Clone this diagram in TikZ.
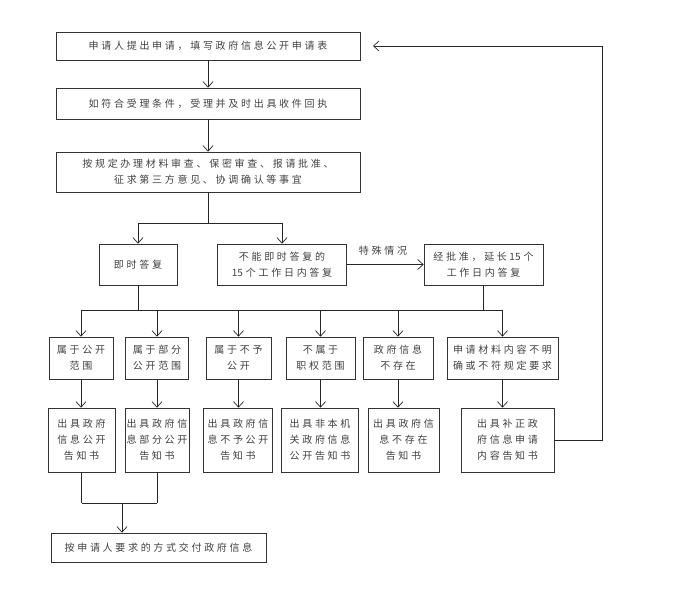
\documentclass[tikz,border=0pt]{standalone}
\usepackage{fontspec}
\newfontfamily\cjk[LetterSpace=27]{Noto Sans CJK SC}
\newfontfamily\cjkn{Noto Sans CJK SC}
\newcommand{\numtxt}[1]{{\cjkn\hspace{2.5pt}#1\hspace{3pt}}}
\usetikzlibrary{arrows.meta}
\begin{document}
\begin{tikzpicture}[x=1pt,y=-1pt,
  box/.style={draw=black!80,line width=0.7pt,inner sep=0pt,align=center,
    font=\cjk\fontsize{10}{16}\selectfont,text=black!75},
  conn/.style={draw=black!85,line width=0.7pt},
  arr/.style={conn,-{Straight Barb[length=5.5pt,width=10pt,line width=0.7pt]}},
  lbl/.style={inner sep=0pt,font=\cjk\fontsize{10}{16}\selectfont,text=black!75}]
\useasboundingbox (0,0) rectangle (683,600);
\node[box,minimum width=304pt,minimum height=28pt] (n1) at (208,46) {申请人提出申请，填写政府信息公开申请表};
\node[box,minimum width=304pt,minimum height=31pt] (n2) at (208,103.5) {如符合受理条件，受理并及时出具收件回执};
\node[box,minimum width=304pt,minimum height=40pt] (n3) at (208,172) {按规定办理材料审查、保密审查、报请批准、\\征求第三方意见、协调确认等事宜};
\node[box,minimum width=78pt,minimum height=41pt] (n4) at (138,264.5) {即时答复};
\node[box,minimum width=129pt,minimum height=41pt] (n5) at (282,264.5) {不能即时答复的\\{\cjkn 15\hspace{3pt}}个工作日内答复};
\node[box,minimum width=119pt,minimum height=41pt] (n6) at (483.5,264.5) {经批准，延长\numtxt{15}个\\工作日内答复};
\node[lbl] (ts) at (383,251) {特殊情况};
% row 1
\node[box,minimum width=64pt,minimum height=42pt] (a) at (81,358) {属于公开\\范围};
\node[box,minimum width=63pt,minimum height=42pt] (b) at (157,358) {属于部分\\公开范围};
\node[box,minimum width=65pt,minimum height=42pt] (c) at (238.5,358) {属于不予\\公开};
\node[box,minimum width=69pt,minimum height=42pt] (d) at (320.5,358) {不属于\\职权范围};
\node[box,minimum width=70pt,minimum height=42pt] (e) at (398,358) {政府信息\\不存在};
\node[box,minimum width=111pt,minimum height=42pt] (f) at (502.5,358) {申请材料内容不明\\确或不符规定要求};
% row 2
\node[box,minimum width=67pt,minimum height=64pt] (a2) at (81.5,440) {出具政府\\信息公开\\告知书};
\node[box,minimum width=64pt,minimum height=64pt] (b2) at (157,440) {出具政府信\\息部分公开\\告知书};
\node[box,minimum width=69pt,minimum height=64pt] (c2) at (238,440) {出具政府信\\息不予公开\\告知书};
\node[box,minimum width=77pt,minimum height=64pt] (d2) at (320,440) {出具非本机\\关政府信息\\公开告知书};
\node[box,minimum width=71pt,minimum height=64pt] (e2) at (403.5,440) {出具政府信\\息不存在\\告知书};
\node[box,minimum width=93pt,minimum height=64pt] (f2) at (507.5,440) {出具补正政\\府信息申请\\内容告知书};
\node[box,minimum width=215pt,minimum height=29pt] (fin) at (158.5,547.5) {按申请人要求的方式交付政府信息};
% coordinates
\coordinate (s1) at (208,223);
\coordinate (h1l) at (138,223);
\coordinate (h1r) at (282,223);
\coordinate (h2l) at (81,310);
\coordinate (h2r) at (502.5,310);
\coordinate (j1) at (138,310);
\coordinate (j2) at (483.5,310);
\coordinate (bl) at (81.5,503);
\coordinate (br) at (157,503);
\coordinate (bm) at (122,503);
\coordinate (fbR) at (602,440);
\coordinate (fbT) at (602,46);
\coordinate (tip) at (373,46);
% connectors
\draw[arr] (n1) -- (n2);
\draw[arr] (n2) -- (n3);
\draw[conn] (n3.south) -- (s1);
\draw[conn] (h1l) -- (h1r);
\draw[arr] (h1l) -- (n4.north);
\draw[arr] (h1r) -- (n5.north);
\draw[arr] (n5.east) -- (n6.west);
\draw[conn] (n4.south) -- (j1);
\draw[conn] (n6.south) -- (j2);
\draw[conn] (h2l) -- (h2r);
\foreach \n in {a,b,c,d,e,f}{
  \draw[arr] (\n.north |- h2l) -- (\n.north);
  \draw[arr] (\n.south) -- (\n.south |- \n2.north);
}
\draw[conn] (a2.south) -- (bl);
\draw[conn] (b2.south) -- (br);
\draw[conn] (bl) -- (br);
\draw[arr] (bm) -- (bm |- fin.north);
\draw[conn] (f2.east) -- (fbR) -- (fbT);
\draw[arr] (fbT) -- (tip);
\end{tikzpicture}
\end{document}
